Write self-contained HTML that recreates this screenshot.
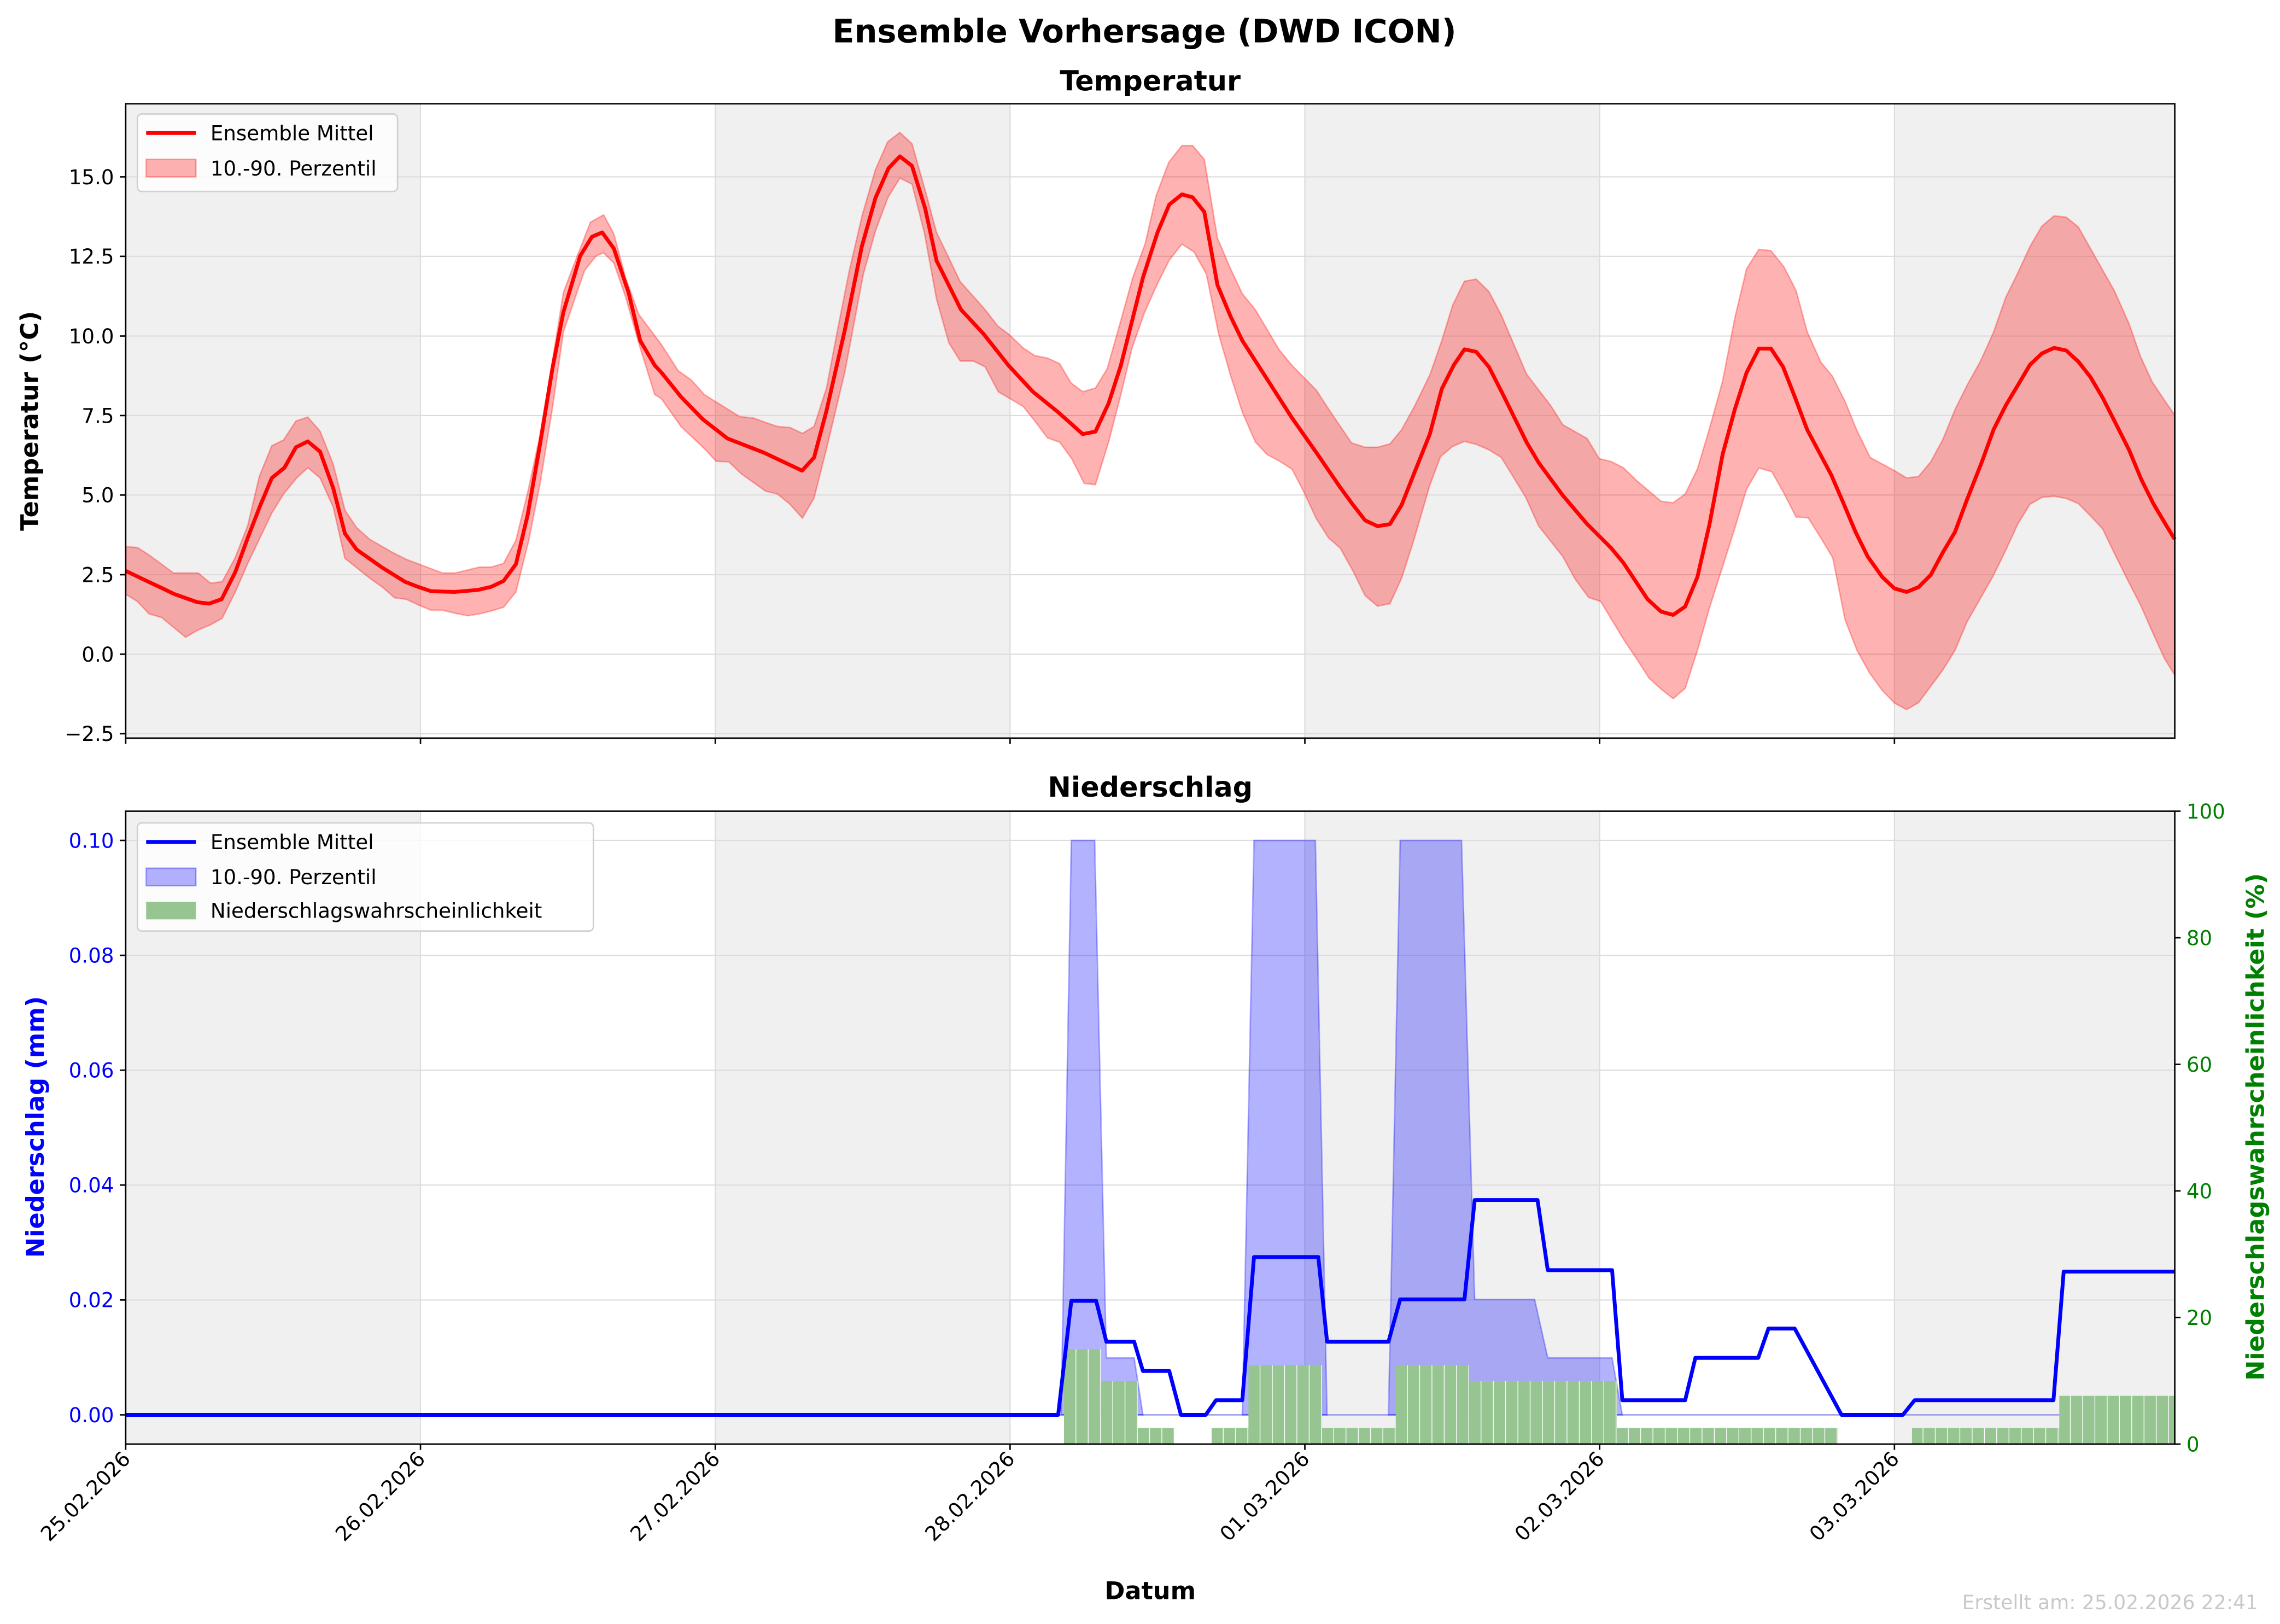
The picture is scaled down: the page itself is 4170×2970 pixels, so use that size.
<!DOCTYPE html>
<html><head><meta charset="utf-8"><style>html,body{margin:0;padding:0;background:#fff}svg{display:block}text{font-family:"DejaVu Sans","Liberation Sans",sans-serif}</style></head>
<body>
<svg width="4170" height="2970" viewBox="0 0 1560 1111.1" preserveAspectRatio="none" xmlns="http://www.w3.org/2000/svg">
<defs>
<pattern id="bars" x="728" y="0" width="8.4" height="1200" patternUnits="userSpaceOnUse">
<rect x="0" y="0" width="8.4" height="1200" fill="#96c592"/><rect x="7.9" y="0" width="0.6" height="1200" fill="#fff"/>
</pattern>
</defs>
<rect width="1560" height="1111.1" fill="#fff"/>
<text x="783" y="29" font-size="22" font-weight="bold" text-anchor="middle">Ensemble Vorhersage (DWD ICON)</text>
<text x="787" y="62" font-size="19" font-weight="bold" text-anchor="middle">Temperatur</text>
<text x="787" y="545" font-size="19" font-weight="bold" text-anchor="middle">Niederschlag</text>

<!-- TOP AXES -->
<g>
<rect x="86" y="71" width="201.7" height="434" fill="#f0f0f0"/>
<rect x="489.4" y="71" width="201.7" height="434" fill="#f0f0f0"/>
<rect x="892.8" y="71" width="201.7" height="434" fill="#f0f0f0"/>
<rect x="1296.2" y="71" width="191.8" height="434" fill="#f0f0f0"/>
<g stroke="#dcdcdc" stroke-width="0.8">
<line x1="86" x2="1488" y1="502" y2="502"/><line x1="86" x2="1488" y1="447.6" y2="447.6"/><line x1="86" x2="1488" y1="393.2" y2="393.2"/><line x1="86" x2="1488" y1="338.7" y2="338.7"/><line x1="86" x2="1488" y1="284.3" y2="284.3"/><line x1="86" x2="1488" y1="229.9" y2="229.9"/><line x1="86" x2="1488" y1="175.4" y2="175.4"/><line x1="86" x2="1488" y1="121" y2="121"/>
<line x1="287.7" x2="287.7" y1="71" y2="505"/><line x1="489.4" x2="489.4" y1="71" y2="505"/><line x1="691.1" x2="691.1" y1="71" y2="505"/><line x1="892.8" x2="892.8" y1="71" y2="505"/><line x1="1094.5" x2="1094.5" y1="71" y2="505"/><line x1="1296.2" x2="1296.2" y1="71" y2="505"/>
</g>
<polygon fill="#ff0000" fill-opacity="0.3" stroke="#ff0000" stroke-opacity="0.3" stroke-width="1" points="86,374 94,374.6 102,379.7 118.7,392 135.6,392 144,399 152,398 160.7,382 169.5,359.6 177.4,326 186,305 194,301 202.5,288 210.6,285.4 219,295 228,317.6 236,349 244,361 253,369 268.6,378 278,382.7 302.7,392 311.5,392 320,390 328,388 336,388 344.5,385.5 353,369.6 361.6,334.5 369.5,297.5 378,247 385.5,200 395,175 404,152 413,147 420,160 428,190 437,215 452.5,235.7 464,253.6 473,260 482,270 490,275 506,285 515.4,286 523.7,289 532,291.8 540.5,292.5 549,296.5 557,291.8 565.5,265.5 573,226 581,185.6 590,147 599,116 607.4,97 615.7,90.6 624,98.4 632.4,128 640.8,159 657,192.7 674,211.8 682.6,223 690.6,229 700,238 708,243.3 716.7,245 725,248.8 732.8,262 740.8,268 749.5,265.5 757.5,252.4 766,222.5 775,190 783.6,166.5 791,134 799.7,111 808.7,99.6 816,99.6 824,109 833,163 842,184 850,201 859,212 875,239 884,250 900.7,267 909,279.8 924.7,303 934,306 942.5,306 951,303.7 959,294 967.5,278.6 978.3,256.6 986.5,233 994,208.6 1002,192.4 1010,191 1018.7,199.4 1027.2,215.6 1044.5,256 1061,277.5 1069.3,290.6 1085.9,300 1094.2,313.8 1102.4,315.8 1110.7,320 1120,329 1136.6,343 1144.8,344 1153,338 1161.4,320.8 1169.7,293 1178.6,260.8 1187,217.5 1195,184 1203.4,170.6 1211.7,171.5 1220.6,182.6 1228.9,198.8 1236.5,227 1245.8,247.7 1253.7,257.4 1262.4,274.7 1270.3,294 1279.6,313 1296.2,322 1304.5,327 1312.7,326 1321,316 1329.3,300.7 1337.6,280.3 1345.9,263.6 1355.1,247 1364,227.3 1372.3,203.6 1380.6,186.8 1388.9,168.7 1397.1,154.7 1405.4,147.7 1413.7,148.6 1422,155.3 1430.3,170 1446.9,199.4 1456.8,221.7 1464.4,243.5 1472.7,261.6 1481,273.9 1488,284 1488,462 1481,450.6 1472.7,432.4 1465,414.8 1456.1,397.5 1447.8,380.8 1438.6,361.8 1430.3,352.9 1422,344.5 1413.7,341 1405.4,339.5 1397.1,340.3 1388.9,345 1380.6,358.5 1372.3,376.6 1363.4,394.7 1345.9,425.4 1337.6,445 1329.3,458.4 1321,469.6 1312.7,480.7 1304.5,485.5 1296.2,481 1287.8,472.3 1278.9,460 1270.6,445 1262.4,424 1254,381.6 1245.8,368 1237.2,354.3 1228.9,353.7 1220.6,337.5 1212.3,322.7 1203.4,320.2 1195,334.7 1187,361.3 1178.6,387.8 1169.7,415.7 1161.4,445 1153,471 1144.8,478 1136.6,471.5 1128.3,464 1120,451 1111.7,438.8 1095.2,411.5 1086.9,408.7 1077.6,396 1069.3,380.8 1052.8,359.9 1043.8,340 1027.2,313 1018.7,307.7 1010,304 1002,302 993.9,305.4 985.6,312.4 978.3,332 967.5,369 959,395.6 951,413 942.5,414.7 934,407.5 925.8,390.8 917,375 909,368 900.7,355 892.3,337 884,321 875.6,315.6 867,311 859,302.5 850,282 842,257 833.8,228.5 825.4,187.5 817,172.4 808.7,167 800,178 792,194 783,214 774.6,238 766.9,270 758.5,302.5 749.5,331.6 741.8,330.7 733.4,314 725,302.5 716.7,299.6 708,288 700,278 683,268 674,251 665.9,247 657,247 649.2,234.5 640.8,204.7 632.4,159 624,126 615.7,121.8 607.4,135.4 599,158 590.6,188 578,254.8 565.5,307 557,340.7 549,354.5 540.5,345 532,338 523.7,336 507,324 498.7,316 490,315.6 482,307 465.9,291.8 452.5,272.7 448,270 438,238 428,203 420,180 413,173 408,175 400,185 385.5,227 378,279 369.5,331 361.6,370.5 353,405 344.5,415.5 336,418 328,420 320,421.3 311.5,419.6 303,417.5 295,417.5 286.5,414 278,410 270,409 261.4,401.5 253,395.6 236,382 228,347 219,327 210.6,320 203,327 194,338 186,351 169.5,385.5 161,405 152,423 144,427.5 135.6,431 127,436 110.6,422.5 102,420 94,411.5 86,406.5"/>
<polyline fill="none" stroke="#ff0000" stroke-width="2.6" stroke-linejoin="round" points="86,390.6 101.5,398 110,402 119.4,406.5 135,412 143,413 151.6,410 161,391.4 169.5,368 178,346 186,327 194.6,320 202.5,306 210.6,302 219,309 228,334 236,365 244,376 261,388 277,398 286,401.5 295,404.5 311,405 327,403.6 336,401.5 344.5,397.5 353,386 361,352.5 369.5,304 378,252 385.5,213.5 397,175 405,162 412,159 420,170 430,200 438,233 448,250 452.5,254.8 465.9,271.5 481,287 497.7,300 522.7,309.7 548.8,322 557,313 565.5,281 578,226 589.6,168.9 599,135.4 608,115 615.7,107 624,113.5 633,142.6 640.8,178.4 657.5,211.8 673,228.5 690,250 706.7,268 724,282 740.8,297 749.5,295.3 758.5,276 766.9,250 782,190 792,159 800,140 808.7,133 816,135 824,145 833,195 842,216.6 850,233 867,259.5 883.9,285.8 900.7,309.7 917,333.5 925.8,345.5 934,356 942.5,360 951,358.6 959,345.5 967.5,324 978.3,297 986.5,266 994.8,249.6 1002,239 1010,240.7 1018.7,251 1027.9,269 1044.5,302.6 1052.8,316.6 1069.3,339 1085.9,358.5 1102.4,375 1110.7,385 1127.3,410 1136.6,418.5 1144.8,420.7 1153,415 1161.4,394.7 1169.7,358.5 1178.6,311 1187,280 1195,255 1203.4,238.5 1211.7,238.5 1220,251 1228.2,272 1236.5,294 1253,325 1261.4,344.5 1269.6,364 1277.9,380.8 1287.8,394.7 1296.2,402.6 1304.5,405 1312.7,401.7 1321,393.4 1329.3,378 1337.6,364 1345.9,341.7 1355.8,316.6 1364,294 1372.3,277.5 1380.6,263.6 1388.9,249.6 1397.1,241.8 1405.4,238 1413.7,239.8 1422,247.4 1430.3,258 1438.6,272 1448.5,291.5 1456.8,308 1465,327.8 1473.3,344.5 1481.6,358.5 1488,369"/>
<rect x="86" y="71" width="1402" height="434" fill="none" stroke="#000" stroke-width="1"/>
<g stroke="#000" stroke-width="1">
<line x1="82" x2="86" y1="502" y2="502"/><line x1="82" x2="86" y1="447.6" y2="447.6"/><line x1="82" x2="86" y1="393.2" y2="393.2"/><line x1="82" x2="86" y1="338.7" y2="338.7"/><line x1="82" x2="86" y1="284.3" y2="284.3"/><line x1="82" x2="86" y1="229.9" y2="229.9"/><line x1="82" x2="86" y1="175.4" y2="175.4"/><line x1="82" x2="86" y1="121" y2="121"/>
<line x1="86" x2="86" y1="505" y2="509"/><line x1="287.7" x2="287.7" y1="505" y2="509"/><line x1="489.4" x2="489.4" y1="505" y2="509"/><line x1="691.1" x2="691.1" y1="505" y2="509"/><line x1="892.8" x2="892.8" y1="505" y2="509"/><line x1="1094.5" x2="1094.5" y1="505" y2="509"/><line x1="1296.2" x2="1296.2" y1="505" y2="509"/>
</g>
<g font-size="13.9" text-anchor="end">
<text x="78" y="507">−2.5</text><text x="78" y="452.6">0.0</text><text x="78" y="398.2">2.5</text><text x="78" y="343.7">5.0</text><text x="78" y="289.3">7.5</text><text x="78" y="234.9">10.0</text><text x="78" y="180.4">12.5</text><text x="78" y="126">15.0</text>
</g>
<text transform="translate(26,288) rotate(-90)" font-size="16.7" font-weight="bold" text-anchor="middle">Temperatur (°C)</text>
<rect x="94" y="78" width="178" height="53" rx="3" fill="#fff" fill-opacity="0.8" stroke="#d0d0d0" stroke-width="1"/>
<line x1="100" x2="134" y1="91" y2="91" stroke="#ff0000" stroke-width="2.6"/>
<rect x="100" y="109" width="34" height="12" fill="#ff0000" fill-opacity="0.3" stroke="#ff0000" stroke-opacity="0.3"/>
<text x="144" y="96" font-size="13.9">Ensemble Mittel</text>
<text x="144" y="120" font-size="13.9">10.-90. Perzentil</text>
</g>

<!-- BOTTOM AXES -->
<g>
<rect x="86" y="555" width="201.7" height="433" fill="#f0f0f0"/>
<rect x="489.4" y="555" width="201.7" height="433" fill="#f0f0f0"/>
<rect x="892.8" y="555" width="201.7" height="433" fill="#f0f0f0"/>
<rect x="1296.2" y="555" width="191.8" height="433" fill="#f0f0f0"/>
<g stroke="#dcdcdc" stroke-width="0.8">
<line x1="86" x2="1488" y1="968" y2="968"/><line x1="86" x2="1488" y1="889.4" y2="889.4"/><line x1="86" x2="1488" y1="810.8" y2="810.8"/><line x1="86" x2="1488" y1="732.2" y2="732.2"/><line x1="86" x2="1488" y1="653.6" y2="653.6"/><line x1="86" x2="1488" y1="575" y2="575"/>
<line x1="287.7" x2="287.7" y1="555" y2="988"/><line x1="489.4" x2="489.4" y1="555" y2="988"/><line x1="691.1" x2="691.1" y1="555" y2="988"/><line x1="892.8" x2="892.8" y1="555" y2="988"/><line x1="1094.5" x2="1094.5" y1="555" y2="988"/><line x1="1296.2" x2="1296.2" y1="555" y2="988"/>
</g>
<g fill="#0000ff" fill-opacity="0.3" stroke="#0000ff" stroke-opacity="0.3" stroke-width="1">
<polygon points="726,968 733,575 749,575 757,929 776,929 782,968"/>
<polygon points="850,968 858,575 900,575 908,968"/>
<polygon points="950,968 958,575 1000,575 1009,889 1050,889 1059,929 1103,929 1110,968"/>
</g>
<line x1="86" x2="1488" y1="968" y2="968" stroke="#0000ff" stroke-opacity="0.3"/>
<g fill="url(#bars)">
<rect x="728" y="923" width="25.2" height="65"/>
<rect x="753.2" y="945" width="25.2" height="43"/>
<rect x="778.4" y="977" width="25.2" height="11"/>
<rect x="829" y="977" width="25.2" height="11"/>
<rect x="854.2" y="934" width="50.4" height="54"/>
<rect x="904.6" y="977" width="50.4" height="11"/>
<rect x="955" y="934" width="50.4" height="54"/>
<rect x="1005.4" y="945" width="100.8" height="43"/>
<rect x="1106.2" y="977" width="151.2" height="11"/>
<rect x="1308.2" y="977" width="100.8" height="11"/>
<rect x="1409" y="955" width="79" height="33"/>
</g>
<polyline fill="none" stroke="#0000ff" stroke-width="2.6" stroke-linejoin="round" points="86,968 724,968 733,890 750,890 757,918 776,918 782,938 800,938 808,968 825,968 832,958 850,958 858,860 902,860 908,918 950,918 958,889 1002,889 1009,821 1052,821 1059,869 1103,869 1110,958 1153,958 1160,929 1203,929 1210,909 1228,909 1260,968 1302,968 1310,958 1405,958 1412,870 1488,870"/>
<rect x="86" y="555" width="1402" height="433" fill="none" stroke="#000" stroke-width="1"/>
<g stroke="#000" stroke-width="1">
<line x1="82" x2="86" y1="968" y2="968"/><line x1="82" x2="86" y1="889.4" y2="889.4"/><line x1="82" x2="86" y1="810.8" y2="810.8"/><line x1="82" x2="86" y1="732.2" y2="732.2"/><line x1="82" x2="86" y1="653.6" y2="653.6"/><line x1="82" x2="86" y1="575" y2="575"/>
<line x1="1488" x2="1492" y1="988" y2="988"/><line x1="1488" x2="1492" y1="901.4" y2="901.4"/><line x1="1488" x2="1492" y1="814.8" y2="814.8"/><line x1="1488" x2="1492" y1="728.2" y2="728.2"/><line x1="1488" x2="1492" y1="641.6" y2="641.6"/><line x1="1488" x2="1492" y1="555" y2="555"/>
<line x1="86" x2="86" y1="988" y2="992"/><line x1="287.7" x2="287.7" y1="988" y2="992"/><line x1="489.4" x2="489.4" y1="988" y2="992"/><line x1="691.1" x2="691.1" y1="988" y2="992"/><line x1="892.8" x2="892.8" y1="988" y2="992"/><line x1="1094.5" x2="1094.5" y1="988" y2="992"/><line x1="1296.2" x2="1296.2" y1="988" y2="992"/>
</g>
<g font-size="13.9" text-anchor="end" fill="#0000ff">
<text x="78" y="973">0.00</text><text x="78" y="894.4">0.02</text><text x="78" y="815.8">0.04</text><text x="78" y="737.2">0.06</text><text x="78" y="658.6">0.08</text><text x="78" y="580">0.10</text>
</g>
<g font-size="13.9" fill="#008000">
<text x="1496" y="993">0</text><text x="1496" y="906.4">20</text><text x="1496" y="819.8">40</text><text x="1496" y="733.2">60</text><text x="1496" y="646.6">80</text><text x="1496" y="560">100</text>
</g>
<text transform="translate(30,771) rotate(-90)" font-size="16.7" font-weight="bold" fill="#0000ff" text-anchor="middle">Niederschlag (mm)</text>
<text transform="translate(1549,771) rotate(-90)" font-size="16.7" font-weight="bold" fill="#008000" text-anchor="middle">Niederschlagswahrscheinlichkeit (%)</text>
<rect x="94" y="563" width="312" height="74" rx="3" fill="#fff" fill-opacity="0.8" stroke="#d0d0d0" stroke-width="1"/>
<line x1="100" x2="134" y1="576" y2="576" stroke="#0000ff" stroke-width="2.6"/>
<rect x="100" y="594" width="34" height="12" fill="#0000ff" fill-opacity="0.3" stroke="#0000ff" stroke-opacity="0.3"/>
<rect x="100" y="617" width="34" height="12" fill="#96c592"/>
<text x="144" y="581" font-size="13.9">Ensemble Mittel</text>
<text x="144" y="605" font-size="13.9">10.-90. Perzentil</text>
<text x="144" y="628" font-size="13.9">Niederschlagswahrscheinlichkeit</text>
<g font-size="13.9" text-anchor="end">
<text transform="translate(90,999) rotate(-45)">25.02.2026</text>
<text transform="translate(291.7,999) rotate(-45)">26.02.2026</text>
<text transform="translate(493.4,999) rotate(-45)">27.02.2026</text>
<text transform="translate(695.1,999) rotate(-45)">28.02.2026</text>
<text transform="translate(896.8,999) rotate(-45)">01.03.2026</text>
<text transform="translate(1098.5,999) rotate(-45)">02.03.2026</text>
<text transform="translate(1300.2,999) rotate(-45)">03.03.2026</text>
</g>
<text x="787" y="1094" font-size="16.7" font-weight="bold" text-anchor="middle">Datum</text>
<text x="1545" y="1101" font-size="13.5" fill="#c8c8c8" text-anchor="end">Erstellt am: 25.02.2026 22:41</text>
</g>
</svg>
</body></html>
